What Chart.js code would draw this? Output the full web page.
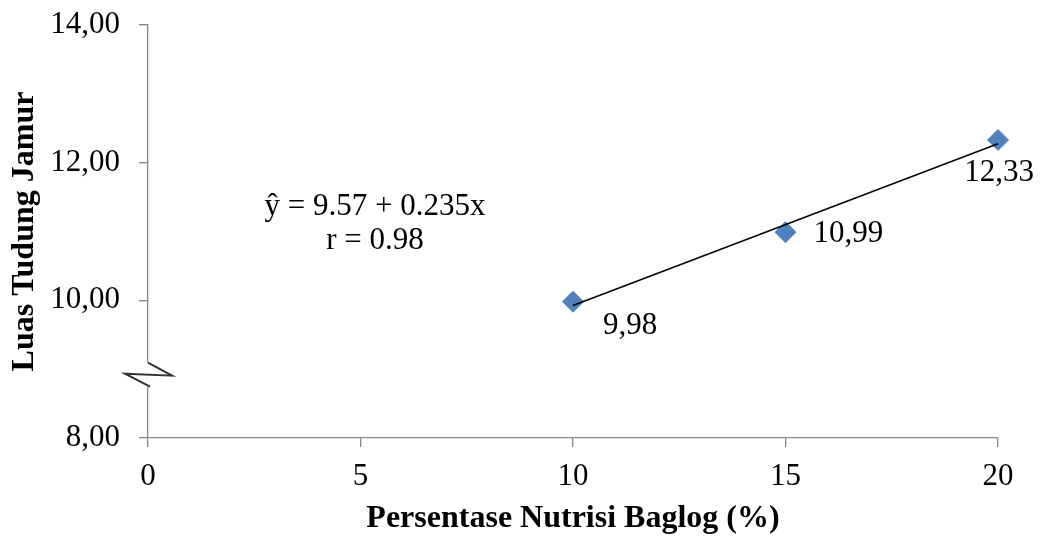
<!DOCTYPE html>
<html lang="id">
<head>
<meta charset="UTF-8">
<title>Luas Tudung Jamur</title>
<script src="https://cdn.jsdelivr.net/npm/chart.js@4.4.1/dist/chart.umd.min.js"></script>
<style>
   html, body { margin: 0; padding: 0; background: #fff; }
   #wrap { width: 1043px; height: 538px; }
</style>
</head>
<body>
<div id="wrap"><canvas id="myChart" width="1043" height="538"></canvas></div>
<script>
   // data
   var nutrisi = [10, 15, 20];              // Persentase Nutrisi Baglog (%)
   var luasTudung = [9.98, 10.99, 12.33];   // Luas Tudung Jamur
   var xTicks = [0, 5, 10, 15, 20];
   var yTicks = [8, 10, 12, 14];
   var eqLines = ['\u0177 = 9.57 + 0.235x', 'r = 0.98'];

   var serif = "'Liberation Serif', 'Times New Roman', serif";

   // garis regresi (least squares) dari data
   var n = nutrisi.length, mx = 0, my = 0;
   for (var i = 0; i < n; i++) { mx += nutrisi[i] / n; my += luasTudung[i] / n; }
   var sxy = 0, sxx = 0;
   for (var i = 0; i < n; i++) {
      sxy += (nutrisi[i] - mx) * (luasTudung[i] - my);
      sxx += (nutrisi[i] - mx) * (nutrisi[i] - mx);
   }
   var slope = sxy / sxx, icpt = my - slope * mx;
   var xFirst = nutrisi[0], xLast = nutrisi[n - 1];
   var trend = [{x: xFirst, y: icpt + slope * xFirst}, {x: xLast, y: icpt + slope * xLast}];

   // label nilai: offset relatif ke titik
   var labelPos = [
      {dx: 30, dy: 24, align: 'left'},
      {dx: 28, dy: 2, align: 'left'},
      {dx: 1, dy: 33, align: 'center'}
   ];

   var valueLabels = {
      id: 'valueLabels',
      afterDatasetsDraw: function(chart) {
         var c = chart.ctx;
         var meta = chart.getDatasetMeta(0);
         c.save();
         c.font = '31px ' + serif;
         c.fillStyle = '#000';
         c.textBaseline = 'middle';
         meta.data.forEach(function(pt, idx) {
            var p = labelPos[idx];
            c.textAlign = p.align;
            c.fillText(luasTudung[idx].toFixed(2).replace('.', ','), pt.x + p.dx, pt.y + p.dy);
         });
         // persamaan regresi
         var a = chart.chartArea;
         c.textAlign = 'center';
         c.fillText(eqLines[0], a.left + 227, a.top + 182);
         c.fillText(eqLines[1], a.left + 227, a.top + 216);
         c.restore();
      }
   };

   // tanda patah sumbu y
   var axisBreak = {
      id: 'axisBreak',
      afterDraw: function(chart) {
         var c = chart.ctx;
         var ys = chart.scales.y;
         var x0 = ys.right;
         var yc = ys.getPixelForValue(8.92);
         c.save();
         c.fillStyle = '#fff';
         c.fillRect(x0 - 3, yc - 12, 6, 24);
         c.strokeStyle = '#333';
         c.lineWidth = 2;
         c.lineJoin = 'miter';
         c.beginPath();
         c.moveTo(x0, yc - 12);
         c.lineTo(x0 + 24, yc + 1);
         c.lineTo(x0 - 23, yc - 1);
         c.lineTo(x0 + 2, yc + 12);
         c.stroke();
         c.restore();
      }
   };

   function noPad(scale) {
      scale.paddingTop = 0;
      scale.paddingBottom = 0;
      scale.paddingLeft = 0;
      scale.paddingRight = 0;
   }

   var ctx = document.getElementById('myChart').getContext('2d');
   var myChart = new Chart(ctx, {
      type: 'scatter',
      plugins: [valueLabels, axisBreak],
      data: {
         datasets: [{
            data: nutrisi.map(function(v, i) { return {x: v, y: luasTudung[i]}; }),
            pointStyle: 'rectRot',
            pointRadius: 10.5,
            pointHoverRadius: 10.5,
            backgroundColor: '#4f81bd',
            borderColor: '#4f81bd',
            borderWidth: 1,
            clip: false,
            order: 1
         }, {
            type: 'line',
            data: trend,
            borderColor: '#000',
            borderWidth: 1.5,
            pointRadius: 0,
            fill: false,
            clip: false,
            order: 0
         }]
      },
      options: {
         responsive: false,
         animation: false,
         layout: {
            padding: {top: 25, right: 45, left: 0, bottom: 0}
         },
         plugins: {
            legend: {display: false},
            tooltip: {enabled: false}
         },
         scales: {
            x: {
               type: 'linear',
               min: 0,
               max: 20,
               afterBuildTicks: function(scale) {
                  scale.ticks = xTicks.map(function(v) { return {value: v}; });
               },
               afterFit: function(scale) { scale.height = 100; noPad(scale); },
               ticks: {
                  padding: 11,
                  color: '#000',
                  font: {family: serif, size: 31}
               },
               grid: {
                  display: true,
                  drawOnChartArea: false,
                  tickLength: 9,
                  color: '#868686',
                  lineWidth: 1.3
               },
               border: {color: '#868686', width: 1.3},
               title: {
                  display: true,
                  text: 'Persentase Nutrisi Baglog (%)',
                  color: '#000',
                  font: {family: serif, size: 32, weight: 'bold'},
                  padding: {top: 0, bottom: 0}
               }
            },
            y: {
               type: 'linear',
               min: 8,
               max: 14,
               afterBuildTicks: function(scale) {
                  scale.ticks = yTicks.map(function(v) { return {value: v}; });
               },
               afterFit: function(scale) { scale.width = 148; noPad(scale); },
               ticks: {
                  padding: 19,
                  color: '#000',
                  font: {family: serif, size: 31},
                  callback: function(v) { return Number(v).toFixed(2).replace('.', ','); }
               },
               grid: {
                  display: true,
                  drawOnChartArea: false,
                  tickLength: 9,
                  color: '#868686',
                  lineWidth: 1.3
               },
               border: {color: '#868686', width: 1.3},
               title: {
                  display: true,
                  text: 'Luas Tudung Jamur',
                  color: '#000',
                  font: {family: serif, size: 32, weight: 'bold'},
                  padding: {top: 6, bottom: 0}
               }
            }
         }
      }
   });
</script>
</body>
</html>
